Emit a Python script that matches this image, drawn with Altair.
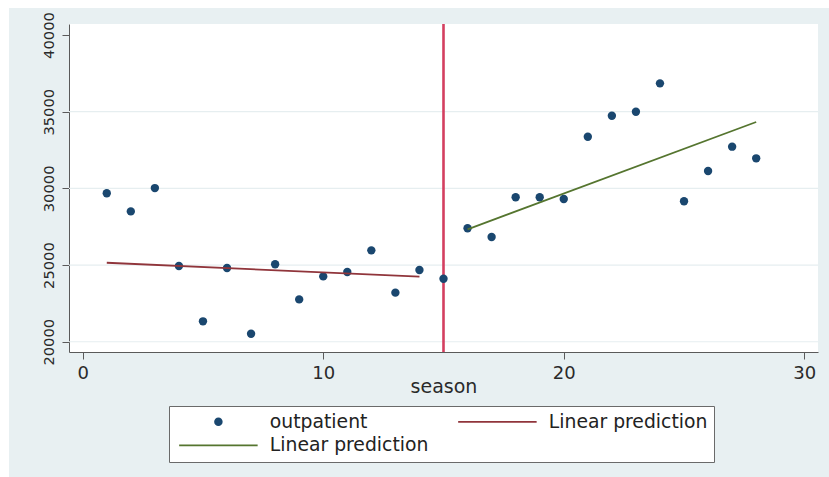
import altair as alt
import pandas as pd

# Quarterly outpatient visits by season
season = list(range(1, 29))
outpatient = [29680, 28500, 30020, 24940, 21330, 24810, 20520, 25050, 22760, 24260,
              24550, 25960, 23200, 24680, 24110, 27400, 26830, 29420, 29420, 29310,
              33370, 34740, 35000, 36850, 29160, 31130, 32720, 31960]

# Linear predictions before and after the intervention
fit_pre_season = [1, 14]
fit_pre_value = [25150, 24240]
fit_post_season = [16, 28]
fit_post_value = [27330, 34330]

cutoff_season = [15]
x_ticks = [0, 10, 20, 30]
y_ticks = [20000, 25000, 30000, 35000, 40000]
y_grid = [20000, 25000, 30000, 35000]

# legend entries fill column by column: observations, post fit | pre fit
series_keys = ["outpatient", "fit_post", "fit_pre"]
series_colors = ["#1a476f", "#55752f", "#90353b"]
# legend swatches: a dot for the observations, a long stroke for each fit
series_shapes = ["circle", "M-11.7,0L11.7,0", "M-11.7,0L11.7,0"]

W, H = 749, 328
PAD_L, PAD_T, PAD_R, PAD_B = 69, 24, 11, 125
FONT = "DejaVu Sans"
BG = "#e8f0f2"

points_df = pd.DataFrame({"season": season, "value": outpatient, "series": "outpatient"})
fit_df = pd.concat([
    pd.DataFrame({"season": fit_pre_season, "value": fit_pre_value, "series": "fit_pre"}),
    pd.DataFrame({"season": fit_post_season, "value": fit_post_value, "series": "fit_post"}),
], ignore_index=True)
cut_df = pd.DataFrame({"season": cutoff_season})
grid_df = pd.DataFrame({"value": y_grid})

x_scale = alt.Scale(domain=[-0.57, 30.57], nice=False, zero=False)
y_scale = alt.Scale(domain=[19330, 40720], nice=False, zero=False)

x_axis = alt.Axis(values=x_ticks, title="season", grid=False, domainColor="#5a5a5a",
                  tickColor="#5a5a5a", tickSize=7, labelFont=FONT, labelFontSize=18,
                  labelColor="#2a2a2a", labelPadding=5, titleFont=FONT, titleFontSize=19,
                  titleFontWeight="normal", titleColor="#2a2a2a", titlePadding=-5)
y_axis = alt.Axis(values=y_ticks, title=None, grid=False, format="d", domainColor="#5a5a5a",
                  tickColor="#5a5a5a", tickSize=7, labelFont=FONT, labelFontSize=14.7,
                  labelColor="#2a2a2a", labelAngle=-90, labelAlign="center",
                  labelBaseline="alphabetic", labelPadding=9)

legend = alt.Legend(
    title=None, orient="none", legendX=100, legendY=382, columns=2,
    labelFont=FONT, labelFontSize=18.8, labelColor="#222222",
    symbolSize=45, symbolStrokeWidth=1.8, symbolOpacity=1,
    symbolOffset=34, labelOffset=42, columnPadding=25, rowPadding=4, padding=6,
    strokeColor="#6a6a6a", fillColor="white",
    labelExpr="datum.value == 'outpatient' ? 'outpatient' : 'Linear prediction'",
)

series_scale = alt.Scale(domain=series_keys, range=series_colors)

# white page margin around the grey graph region
margin_top = alt.Chart(grid_df).mark_rect(color="white").encode(
    x=alt.value(-PAD_L), x2=alt.value(W + PAD_R), y=alt.value(-PAD_T), y2=alt.value(-PAD_T + 8))
margin_left = alt.Chart(grid_df).mark_rect(color="white").encode(
    x=alt.value(-PAD_L), x2=alt.value(-PAD_L + 9), y=alt.value(-PAD_T), y2=alt.value(H + PAD_B))

grid = alt.Chart(grid_df).mark_rule(color="#e6eef0", strokeWidth=1.2).encode(
    y=alt.Y("value:Q", scale=y_scale, axis=y_axis))

cutoff = alt.Chart(cut_df).mark_rule(color="#d43f60", strokeWidth=2.6).encode(
    x=alt.X("season:Q", scale=x_scale, axis=x_axis))

points = alt.Chart(points_df).mark_point(filled=True, opacity=1, strokeWidth=0, size=70).encode(
    x=alt.X("season:Q", scale=x_scale, axis=x_axis),
    y=alt.Y("value:Q", scale=y_scale, axis=y_axis),
    fill=alt.Fill("series:N", scale=series_scale, legend=legend),
    stroke=alt.Stroke("series:N", scale=series_scale, legend=legend),
    shape=alt.Shape("series:N", scale=alt.Scale(domain=series_keys, range=series_shapes),
                    legend=legend),
)

fits = alt.Chart(fit_df).mark_line(strokeWidth=1.8).encode(
    x=alt.X("season:Q", scale=x_scale, axis=x_axis),
    y=alt.Y("value:Q", scale=y_scale, axis=y_axis),
    stroke=alt.Stroke("series:N", scale=series_scale, legend=legend),
    detail="series:N",
)

chart = alt.layer(margin_top, margin_left, grid, cutoff, points, fits).properties(
    width=W, height=H,
    background=BG,
    padding={"left": PAD_L, "top": PAD_T, "right": PAD_R, "bottom": PAD_B},
    autosize=alt.AutoSizeParams(type="none"),
).configure_view(fill="white", stroke=None)

chart.save("out.html", embed_options={"renderer": "svg", "actions": False})
